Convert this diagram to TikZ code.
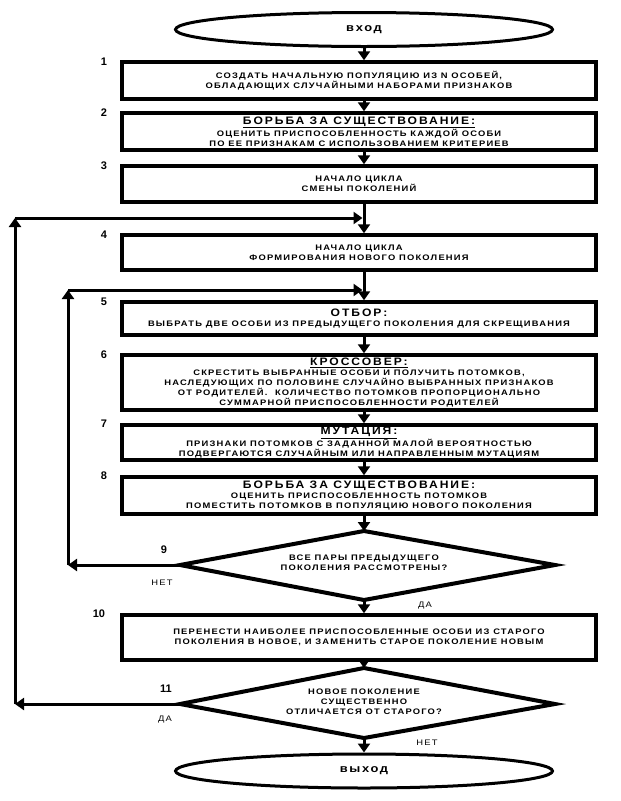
\documentclass[tikz,border=0pt]{standalone}
\usepackage{fontspec}
\setmainfont{Liberation Sans}
\newfontfamily\boxfont{Liberation Sans}[LetterSpace=15,FakeStretch=1.17]
\newfontfamily\headfont{Liberation Sans}[LetterSpace=18,FakeStretch=1.12]
\usetikzlibrary{arrows.meta,shapes.geometric}
\newcommand{\hd}[1]{{\headfont\fontsize{10.8}{11}\selectfont #1}}
\tikzset{
  box/.style={draw, line width=3.5pt, minimum width=474pt, inner sep=0pt, align=center,
    font=\boxfont\bfseries\fontsize{8}{10}\selectfont},
  term/.style={draw, ellipse, line width=3pt, minimum width=377pt, minimum height=34pt, inner sep=0pt,
    font=\boxfont\bfseries\fontsize{11}{12}\selectfont},
  dtext/.style={align=center, inner sep=0pt, font=\boxfont\bfseries\fontsize{8}{10}\selectfont},
  dia/.style={line width=4pt, line join=miter, miter limit=20},
  arr/.style={line width=3pt, -{Triangle[width=12pt,length=9pt]}},
  num/.style={font=\bfseries\fontsize{11}{12}\selectfont, inner sep=0pt},
  lab/.style={font=\boxfont\fontsize{8}{9}\selectfont, inner sep=0pt},
}
\begin{document}
\begin{tikzpicture}[x=1pt,y=-1pt]
\useasboundingbox (0,0) rectangle (621,801);
% terminals
\node[term] (in) at (364,29.5) {вход};
\node[term] (out) at (364,771) {выход};
% boxes
\node[box, minimum height=37pt] (b1) at (359,80.5) {СОЗДАТЬ НАЧАЛЬНУЮ ПОПУЛЯЦИЮ ИЗ N ОСОБЕЙ,\\ОБЛАДАЮЩИХ СЛУЧАЙНЫМИ НАБОРАМИ ПРИЗНАКОВ};
\node[box, minimum height=37pt] (b2) at (359,131.5) {\hd{\underline{БОРЬБА ЗА СУЩЕСТВОВАНИЕ:}}\\ОЦЕНИТЬ ПРИСПОСОБЛЕННОСТЬ КАЖДОЙ ОСОБИ\\ПО ЕЕ ПРИЗНАКАМ С ИСПОЛЬЗОВАНИЕМ КРИТЕРИЕВ};
\node[box, minimum height=36pt] (b3) at (359,184) {НАЧАЛО ЦИКЛА\\СМЕНЫ ПОКОЛЕНИЙ};
\node[box, minimum height=35pt] (b4) at (359,252.5) {НАЧАЛО ЦИКЛА\\ФОРМИРОВАНИЯ НОВОГО ПОКОЛЕНИЯ};
\node[box, minimum height=33pt] (b5) at (359,318.5) {\hd{ОТБОР:}\\ВЫБРАТЬ ДВЕ ОСОБИ ИЗ ПРЕДЫДУЩЕГО ПОКОЛЕНИЯ ДЛЯ СКРЕЩИВАНИЯ};
\node[box, minimum height=55pt] (b6) at (359,382.5) {\hd{\underline{КРОССОВЕР:}}\\СКРЕСТИТЬ ВЫБРАННЫЕ ОСОБИ И ПОЛУЧИТЬ ПОТОМКОВ,\\НАСЛЕДУЮЩИХ ПО ПОЛОВИНЕ СЛУЧАЙНО ВЫБРАННЫХ ПРИЗНАКОВ\\ОТ РОДИТЕЛЕЙ.\ \ КОЛИЧЕСТВО ПОТОМКОВ ПРОПОРЦИОНАЛЬНО\\СУММАРНОЙ ПРИСПОСОБЛЕННОСТИ РОДИТЕЛЕЙ};
\node[box, minimum height=35pt] (b7) at (359,442.5) {\hd{\underline{МУТАЦИЯ:}}\\ПРИЗНАКИ ПОТОМКОВ С ЗАДАННОЙ МАЛОЙ ВЕРОЯТНОСТЬЮ\\ПОДВЕРГАЮТСЯ СЛУЧАЙНЫМ ИЛИ НАПРАВЛЕННЫМ МУТАЦИЯМ};
\node[box, minimum height=37pt] (b8) at (359,495.5) {\hd{БОРЬБА ЗА СУЩЕСТВОВАНИЕ:}\\ОЦЕНИТЬ ПРИСПОСОБЛЕННОСТЬ ПОТОМКОВ\\ПОМЕСТИТЬ ПОТОМКОВ В ПОПУЛЯЦИЮ НОВОГО ПОКОЛЕНИЯ};
\node[box, minimum height=45pt] (b10) at (359,637.5) {ПЕРЕНЕСТИ НАИБОЛЕЕ ПРИСПОСОБЛЕННЫЕ ОСОБИ ИЗ СТАРОГО\\ПОКОЛЕНИЯ В НОВОЕ, И ЗАМЕНИТЬ СТАРОЕ ПОКОЛЕНИЕ НОВЫМ};
% diamonds
\node[dtext] (d9) at (364,563) {ВСЕ ПАРЫ ПРЕДЫДУЩЕГО\\ПОКОЛЕНИЯ РАССМОТРЕНЫ?};
\coordinate (d9t) at (364,531); \coordinate (d9b) at (364,600);
\coordinate (d9l) at (180,565); \coordinate (d9r) at (555,565);
\draw[dia] (d9t) -- (d9r) -- (d9b) -- (d9l) -- cycle;
\node[dtext] (d11) at (364,702) {НОВОЕ ПОКОЛЕНИЕ\\СУЩЕСТВЕННО\\ОТЛИЧАЕТСЯ ОТ СТАРОГО?};
\coordinate (d11t) at (364,668); \coordinate (d11b) at (364,738);
\coordinate (d11l) at (180,704); \coordinate (d11r) at (555,704);
\draw[dia] (d11t) -- (d11r) -- (d11b) -- (d11l) -- cycle;
% main flow
\draw[arr] (in.south) -- (b1.north -| in);
\draw[arr] (b1.south -| in) -- (b2.north -| in);
\draw[arr] (b2.south -| in) -- (b3.north -| in);
\draw[arr] (b3.south -| in) -- (b4.north -| in);
\draw[arr] (b4.south -| in) -- (b5.north -| in);
\draw[arr] (b5.south -| in) -- (b6.north -| in);
\draw[arr] (b6.south -| in) -- (b7.north -| in);
\draw[arr] (b7.south -| in) -- (b8.north -| in);
\draw[arr] (b8.south -| in) -- (d9t);
\draw[arr] (d9b) -- (b10.north -| in);
\draw[arr] (b10.south -| in) -- (d11t);
\draw[arr] (d11b) -- (out.north);
% inner loop
\coordinate (i1) at (68,565); \coordinate (i2) at (68,290); \coordinate (i3) at (362.5,290);
\draw[arr] (d9l) -- (i1);
\draw[arr] (i1) -- (i2);
\draw[arr] (i2) -- (i3);
% outer loop
\coordinate (o1) at (15,704); \coordinate (o2) at (15,218); \coordinate (o3) at (362.5,218);
\draw[arr] (d11l) -- (o1);
\draw[arr] (o1) -- (o2);
\draw[arr] (o2) -- (o3);
% numbers
\node[num] (n1) at (104,62) {1};
\node[num] (n2) at (104,113) {2};
\node[num] (n3) at (104,166) {3};
\node[num] (n4) at (104,235) {4};
\node[num] (n5) at (104,302) {5};
\node[num] (n6) at (104,355) {6};
\node[num] (n7) at (104,424) {7};
\node[num] (n8) at (104,476) {8};
\node[num] (n9) at (164,550) {9};
\node[num] (n10) at (99,614) {10};
\node[num] (n11) at (166,689) {11};
% branch labels
\node[lab] (l9n) at (162,583) {НЕТ};
\node[lab] (l9y) at (425,606) {ДА};
\node[lab] (l11y) at (165,720) {ДА};
\node[lab] (l11n) at (427,743) {НЕТ};
\end{tikzpicture}
\end{document}
